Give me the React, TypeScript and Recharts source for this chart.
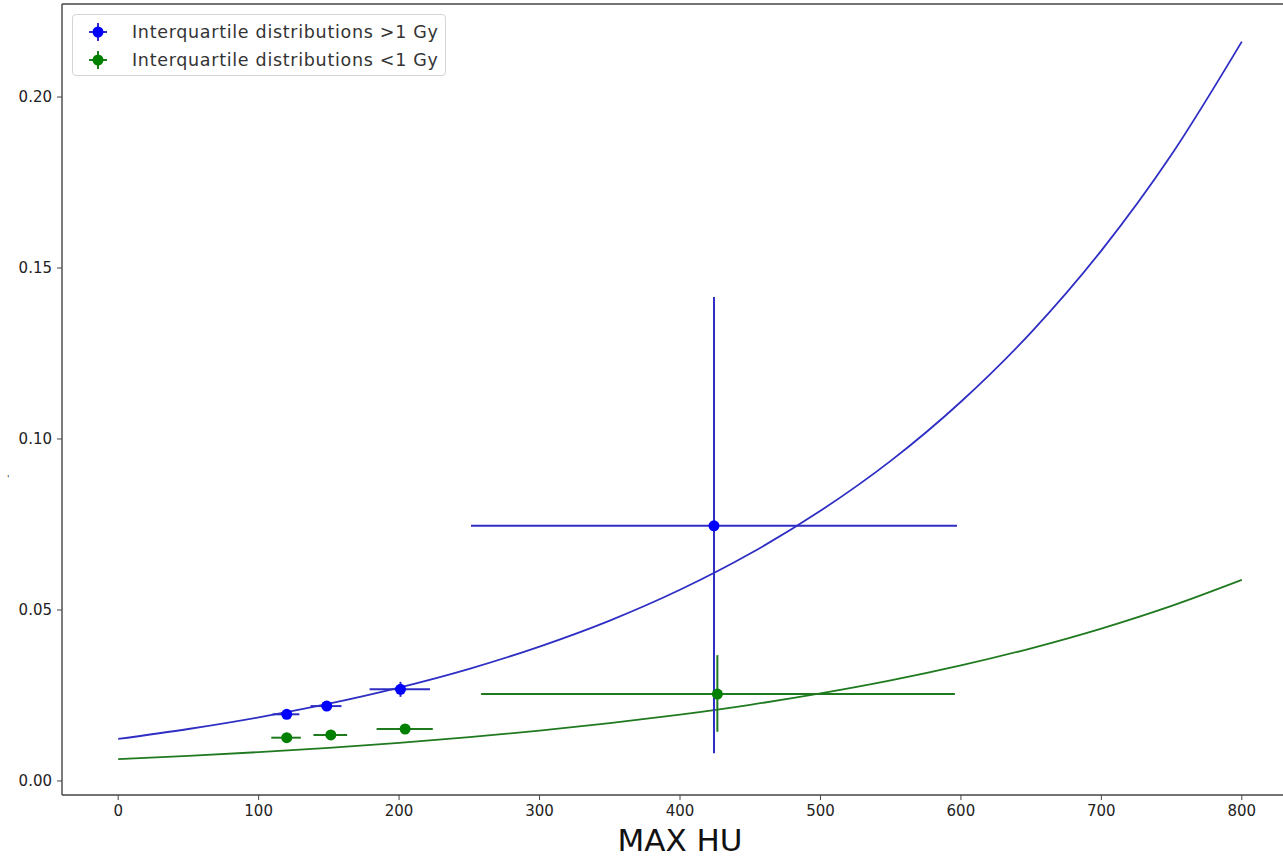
import React from "react";
import {
  ComposedChart,
  Line,
  Scatter,
  ErrorBar,
  XAxis,
  YAxis,
  ReferenceLine,
} from "recharts";

// fitted curves, every 50 HU
const curveX = [0, 50, 100, 150, 200, 250, 300, 350, 400, 450, 500, 550, 600, 650, 700, 750, 800];
const blueCurveY = [
  0.0123, 0.0152, 0.0186, 0.0226, 0.0273, 0.0328, 0.0393, 0.0469, 0.0559, 0.0665, 0.079, 0.0936,
  0.1109, 0.1312, 0.1551, 0.1832, 0.2162,
];
const greenCurveY = [
  0.0064, 0.00735, 0.00844, 0.0097, 0.01114, 0.0128, 0.0147, 0.01689, 0.0194, 0.02228, 0.0256,
  0.0294, 0.03378, 0.0388, 0.04457, 0.0512, 0.05881,
];

// interquartile points: median, [below, above] spreads
const blueX = [120, 148.5, 201, 424.2];
const blueY = [0.0195, 0.0219, 0.0268, 0.0746];
const blueXErr: [number, number][] = [[10, 9], [11.5, 10.5], [22, 21], [173, 173]];
const blueYErr: [number, number][] = [[0.0011, 0.0011], [0.0009, 0.0009], [0.0022, 0.0022], [0.0665, 0.0669]];

const greenX = [120, 151.4, 204.3, 426.6];
const greenY = [0.01266, 0.01345, 0.0152, 0.0254];
const greenXErr: [number, number][] = [[11, 10], [12.4, 11.6], [20.3, 19.7], [168.2, 169.1]];
const greenYErr: [number, number][] = [[0.0006, 0.0006], [0.0006, 0.0006], [0.0006, 0.0006], [0.011, 0.0114]];

const xTicks = [0, 100, 200, 300, 400, 500, 600, 700, 800];
const yTicks = [0, 0.05, 0.1, 0.15, 0.2];
const legendLabels = ["Interquartile distributions >1 Gy", "Interquartile distributions <1 Gy"];

const BLUE_DOT = "#0000ff";
const BLUE_LINE = "#2e2ec4";
const GREEN_DOT = "#008000";
const GREEN_LINE = "#1f7a1f";
const FONT = "'DejaVu Sans', sans-serif";

const blueCurve = curveX.map((x, i) => ({ x, y: blueCurveY[i] }));
const greenCurve = curveX.map((x, i) => ({ x, y: greenCurveY[i] }));
const bluePoints = blueX.map((x, i) => ({ x, y: blueY[i], xErr: blueXErr[i], yErr: blueYErr[i] }));
const greenPoints = greenX.map((x, i) => ({ x, y: greenY[i], xErr: greenXErr[i], yErr: greenYErr[i] }));

const dot = (color: string) => (props: any) => (
  <circle cx={props.cx} cy={props.cy} r={5.5} fill={color} />
);

function LegendMarker({ color, lineColor }: { color: string; lineColor: string }) {
  return (
    <svg width={24} height={24} style={{ display: "block" }}>
      <line x1={3} y1={12} x2={21} y2={12} stroke={lineColor} strokeWidth={2} />
      <line x1={12} y1={3} x2={12} y2={21} stroke={lineColor} strokeWidth={2} />
      <circle cx={12} cy={12} r={5.5} fill={color} />
    </svg>
  );
}

export default function App() {
  const legendColors = [
    [BLUE_DOT, BLUE_LINE],
    [GREEN_DOT, GREEN_LINE],
  ];
  return (
    <div
      style={{
        position: "absolute",
        left: 0,
        top: 0,
        width: 1283,
        height: 857,
        overflow: "hidden",
        background: "#fff",
        fontFamily: FONT,
      }}
    >
      <ComposedChart width={1300} height={857} margin={{ top: 4, right: 2, left: 8, bottom: 0 }}>
        <XAxis
          dataKey="x"
          type="number"
          domain={[-40, 840]}
          ticks={xTicks}
          allowDataOverflow
          height={62}
          tickSize={5}
          tickMargin={5}
          tick={{ fontSize: 15, fill: "#222", fontFamily: FONT }}
          axisLine={{ stroke: "#444", strokeWidth: 1.4 }}
          tickLine={{ stroke: "#444" }}
          label={{
            value: "MAX HU",
            position: "insideBottom",
            offset: 6,
            fontSize: 31,
            fill: "#111",
            fontFamily: FONT,
          }}
        />
        <YAxis
          dataKey="y"
          type="number"
          domain={[-0.0041, 0.2272]}
          ticks={yTicks}
          allowDataOverflow
          width={54}
          tickSize={5}
          tickMargin={5}
          tickFormatter={(v: number) => v.toFixed(2)}
          tick={{ fontSize: 15, fill: "#222", fontFamily: FONT }}
          axisLine={{ stroke: "#444", strokeWidth: 1.4 }}
          tickLine={{ stroke: "#444" }}
          label={{
            content: () => (
              <text x={7} y={482} fontSize={9} fill="#333" fontFamily={FONT}>
                '
              </text>
            ),
          }}
        />
        <ReferenceLine y={0.2272} stroke="#444" strokeWidth={1.4} />
        <Line
          data={blueCurve}
          dataKey="y"
          type="monotone"
          stroke={BLUE_LINE}
          strokeWidth={1.8}
          dot={false}
          isAnimationActive={false}
        />
        <Line
          data={greenCurve}
          dataKey="y"
          type="monotone"
          stroke={GREEN_LINE}
          strokeWidth={1.8}
          dot={false}
          isAnimationActive={false}
        />
        <Scatter data={bluePoints} dataKey="y" shape={dot(BLUE_DOT)} isAnimationActive={false}>
          <ErrorBar dataKey="xErr" direction="x" width={0} stroke={BLUE_LINE} strokeWidth={2} />
          <ErrorBar dataKey="yErr" direction="y" width={0} stroke={BLUE_LINE} strokeWidth={2} />
        </Scatter>
        <Scatter data={greenPoints} dataKey="y" shape={dot(GREEN_DOT)} isAnimationActive={false}>
          <ErrorBar dataKey="xErr" direction="x" width={0} stroke={GREEN_LINE} strokeWidth={2} />
          <ErrorBar dataKey="yErr" direction="y" width={0} stroke={GREEN_LINE} strokeWidth={2} />
        </Scatter>
      </ComposedChart>
      <div
        style={{
          position: "absolute",
          left: 72,
          top: 14,
          width: 374,
          height: 62,
          border: "1px solid #d4d4d4",
          borderRadius: 4,
          background: "rgba(255,255,255,0.85)",
          boxSizing: "border-box",
          paddingTop: 3,
        }}
      >
        {legendLabels.map((label, i) => (
          <div key={label} style={{ display: "flex", alignItems: "center", height: 28 }}>
            <div style={{ marginLeft: 13, marginRight: 22 }}>
              <LegendMarker color={legendColors[i][0]} lineColor={legendColors[i][1]} />
            </div>
            <span
              style={{ fontSize: 17.5, letterSpacing: 0.7, color: "#333", whiteSpace: "nowrap" }}
            >
              {label}
            </span>
          </div>
        ))}
      </div>
    </div>
  );
}
